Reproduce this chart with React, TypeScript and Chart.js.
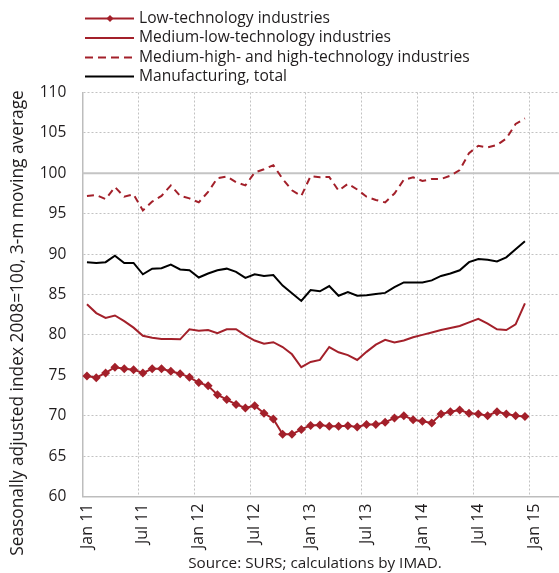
import { useEffect, useRef } from 'react';
import { Chart, registerables } from 'chart.js';

Chart.register(...registerables);

const monthNames = ['Jan', 'Feb', 'Mar', 'Apr', 'May', 'Jun', 'Jul', 'Aug', 'Sep', 'Oct', 'Nov', 'Dec'];
const years = ['11', '12', '13', '14', '15'];
const categoryCount = 54; // Jan 11 .. Jun 15 (axis runs past the last data point)

const lowTech = [
  74.9, 74.7, 75.3, 76.0, 75.8, 75.7, 75.3, 75.8, 75.8, 75.5, 75.2, 74.75,
  74.1, 73.7, 72.6, 72.0, 71.4, 70.95, 71.24, 70.3, 69.6, 67.7, 67.7, 68.3,
  68.8, 68.85, 68.7, 68.7, 68.75, 68.6, 68.9, 68.9, 69.2, 69.7, 70.0, 69.5,
  69.3, 69.1, 70.2, 70.5, 70.7, 70.3, 70.2, 70.0, 70.5, 70.2, 70.0, 69.9,
];
const mediumLowTech = [
  83.8, 82.7, 82.1, 82.4, 81.7, 80.9, 79.9, 79.65, 79.5, 79.5, 79.45, 80.7,
  80.5, 80.6, 80.2, 80.7, 80.7, 79.95, 79.3, 78.9, 79.1, 78.5, 77.6, 76.0,
  76.65, 76.9, 78.5, 77.85, 77.5, 76.9, 77.9, 78.8, 79.4, 79.05, 79.3, 79.7,
  80.0, 80.3, 80.6, 80.85, 81.1, 81.55, 82.0, 81.4, 80.7, 80.6, 81.3, 83.9,
];
const mediumHighTech = [
  97.2, 97.3, 96.8, 98.3, 97.1, 97.4, 95.4, 96.5, 97.2, 98.5, 97.2, 96.9,
  96.4, 97.7, 99.4, 99.6, 98.9, 98.5, 100.1, 100.5, 101.0, 99.3, 97.9, 97.2,
  99.65, 99.5, 99.55, 97.85, 98.7, 98.0, 97.1, 96.7, 96.4, 97.5, 99.2, 99.5,
  99.05, 99.3, 99.3, 99.7, 100.4, 102.5, 103.4, 103.2, 103.5, 104.3, 106.1, 106.8,
];
const manufacturing = [
  89.0, 88.9, 89.0, 89.8, 88.9, 88.9, 87.5, 88.2, 88.25, 88.7, 88.1, 88.0,
  87.1, 87.6, 88.0, 88.2, 87.8, 87.05, 87.5, 87.3, 87.4, 86.1, 85.15, 84.2,
  85.55, 85.4, 86.05, 84.85, 85.3, 84.85, 84.9, 85.05, 85.2, 85.9, 86.5, 86.5,
  86.5, 86.75, 87.3, 87.6, 88.0, 89.0, 89.4, 89.3, 89.1, 89.6, 90.6, 91.6,
];

const seriesNames = [
  'Low-technology industries',
  'Medium-low-technology industries',
  'Medium-high- and high-technology industries',
  'Manufacturing, total',
];
const yTicks = { min: 60, max: 110, step: 5 };
const yTitle = 'Seasonally adjusted index 2008=100, 3-m moving average';
const sourceText = 'Source: SURS; calculations by IMAD.';

const categories: string[] = [];
for (const y of years) {
  for (const m of monthNames) {
    if (categories.length < categoryCount) categories.push(`${m} ${y}`);
  }
}

const RED = '#a3202a';
const TEXT = '#1f1c1d';
const GRID = '#c2c2c2';
const FONT = "'Open Sans', 'Noto Sans', sans-serif";

function fitSize(ctx: CanvasRenderingContext2D, text: string, target: number) {
  ctx.font = `16px ${FONT}`;
  const w = ctx.measureText(text).width || 1;
  return (16 * target) / w;
}

const decor = {
  id: 'decor',
  beforeDatasetsDraw(chart: any) {
    const { ctx, chartArea, scales } = chart;
    const y100 = scales.y.getPixelForValue(100);
    ctx.save();
    ctx.strokeStyle = '#c4c4c4';
    ctx.lineWidth = 2;
    ctx.beginPath();
    ctx.moveTo(chartArea.left, y100);
    ctx.lineTo(chartArea.right, y100);
    ctx.stroke();
    ctx.restore();
  },
  afterDraw(chart: any) {
    const { ctx } = chart;
    ctx.save();
    // legend
    const legendSize = fitSize(ctx, seriesNames[2], 331);
    const rows = [18.5, 38, 57.5, 76.5];
    const styles = [
      { color: RED, dash: [] as number[], marker: true },
      { color: RED, dash: [] as number[], marker: false },
      { color: RED, dash: [8, 5], marker: false },
      { color: '#000', dash: [] as number[], marker: false },
    ];
    rows.forEach((ry, i) => {
      const s = styles[i];
      ctx.strokeStyle = s.color;
      ctx.lineWidth = 2;
      ctx.setLineDash(s.dash);
      ctx.beginPath();
      ctx.moveTo(85, ry);
      ctx.lineTo(134, ry);
      ctx.stroke();
      ctx.setLineDash([]);
      if (s.marker) {
        ctx.fillStyle = s.color;
        ctx.beginPath();
        ctx.moveTo(110, ry - 3.5);
        ctx.lineTo(113.5, ry);
        ctx.lineTo(110, ry + 3.5);
        ctx.lineTo(106.5, ry);
        ctx.closePath();
        ctx.fill();
      }
      ctx.fillStyle = TEXT;
      ctx.font = `${legendSize}px ${FONT}`;
      ctx.textAlign = 'left';
      ctx.textBaseline = 'middle';
      ctx.fillText(seriesNames[i], 139, ry);
    });
    // y title
    const titleSize = fitSize(ctx, yTitle, 466);
    ctx.save();
    ctx.translate(18, 323);
    ctx.rotate(-Math.PI / 2);
    ctx.font = `${titleSize}px ${FONT}`;
    ctx.fillStyle = TEXT;
    ctx.textAlign = 'center';
    ctx.textBaseline = 'middle';
    ctx.fillText(yTitle, 0, 0);
    ctx.restore();
    // source
    const srcSize = fitSize(ctx, sourceText, 254);
    ctx.font = `${srcSize}px ${FONT}`;
    ctx.fillStyle = TEXT;
    ctx.textAlign = 'center';
    ctx.textBaseline = 'alphabetic';
    ctx.fillText(sourceText, 315, 568);
    ctx.restore();
  },
};

export default function App() {
  const ref = useRef<HTMLCanvasElement>(null);
  useEffect(() => {
    const canvas = ref.current;
    if (!canvas) return;
    const chart = new Chart(canvas, {
      type: 'line',
      data: {
        labels: categories,
        datasets: [
          {
            label: seriesNames[0],
            data: lowTech,
            borderColor: RED,
            backgroundColor: RED,
            borderWidth: 2,
            pointStyle: 'rectRot',
            pointRadius: 4.5,
            pointBorderWidth: 0,
            pointBackgroundColor: RED,
            tension: 0,
          },
          {
            label: seriesNames[1],
            data: mediumLowTech,
            borderColor: RED,
            borderWidth: 2,
            pointRadius: 0,
            tension: 0,
          },
          {
            label: seriesNames[2],
            data: mediumHighTech,
            borderColor: RED,
            borderWidth: 2,
            borderDash: [7, 5],
            pointRadius: 0,
            tension: 0,
          },
          {
            label: seriesNames[3],
            data: manufacturing,
            borderColor: '#000',
            borderWidth: 2,
            pointRadius: 0,
            tension: 0,
          },
        ],
      },
      options: {
        responsive: false,
        animation: false,
        events: [],
        layout: { padding: { top: 92.5, left: 0, right: 0, bottom: 0 } },
        plugins: { legend: { display: false }, tooltip: { enabled: false }, title: { display: false } },
        scales: {
          x: {
            type: 'category',
            offset: true,
            grid: {
              offset: true,
              drawTicks: false,
              lineWidth: 1,
              color: (c: any) =>
                c.index !== undefined && c.index > 0 && c.index % 6 === 0 ? GRID : 'transparent',
            },
            border: { display: true, color: '#bdbdbd', width: 1.5, dash: [2, 2] },
            ticks: {
              autoSkip: false,
              minRotation: 90,
              maxRotation: 90,
              padding: 7,
              color: TEXT,
              font: { family: FONT, size: 16 },
              callback: (_v: any, i: number) => (i % 6 === 0 ? categories[i] : ''),
            },
            afterFit: (s: any) => {
              s.height = 76.5;
              s.paddingLeft = 0;
              s.paddingRight = 0;
            },
          },
          y: {
            min: yTicks.min,
            max: yTicks.max,
            grid: {
              drawTicks: false,
              lineWidth: 1,
              color: (c: any) => (c.tick && c.tick.value === 100 ? 'transparent' : GRID),
            },
            border: { display: true, color: '#bdbdbd', width: 1.5, dash: [2, 2] },
            ticks: {
              stepSize: yTicks.step,
              padding: 16,
              color: TEXT,
              font: { family: FONT, size: 15.5 },
            },
            afterFit: (s: any) => {
              s.width = 82.3;
              s.paddingTop = 0;
              s.paddingBottom = 0;
            },
          },
        },
      },
      plugins: [decor],
    });
    return () => chart.destroy();
  }, []);

  return (
    <div style={{ position: 'fixed', left: 0, top: 0, width: 559, height: 573, overflow: 'hidden', background: '#fff' }}>
      <canvas ref={ref} width={590} height={573} style={{ display: 'block' }} />
    </div>
  );
}
